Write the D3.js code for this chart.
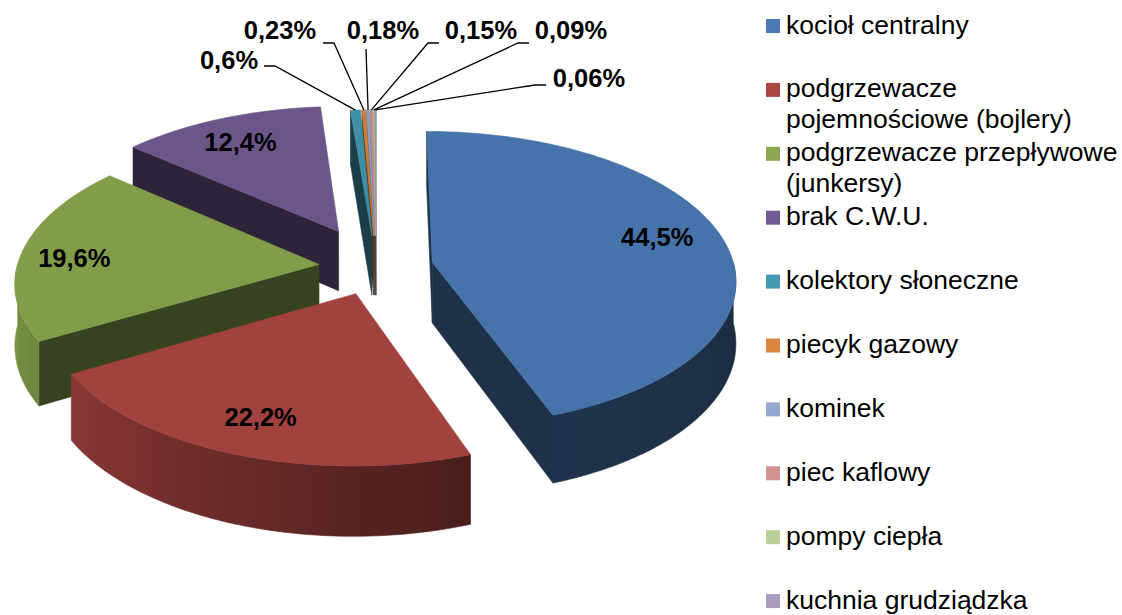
<!DOCTYPE html>
<html>
<head>
<meta charset="utf-8">
<script src="https://cdnjs.cloudflare.com/ajax/libs/d3/7.8.5/d3.min.js"></script>
<style>
  body { margin: 0; background: #fff; }
  svg { display: block; font-family: "Liberation Sans", Arial, sans-serif; }
</style>
</head>
<body>
<svg id="chart" width="1122" height="615"></svg>
<script>
// data
var categories = [
    "kocioł centralny",
    "podgrzewacze\npojemnościowe (bojlery)",
    "podgrzewacze przepływowe\n(junkersy)",
    "brak C.W.U.",
    "kolektory słoneczne",
    "piecyk gazowy",
    "kominek",
    "piec kaflowy",
    "pompy ciepła",
    "kuchnia grudziądzka"
];
var values = [44.5, 22.2, 19.6, 12.4, 0.6, 0.23, 0.18, 0.15, 0.09, 0.06];
var colors = ["#4a7ab4", "#ab4643", "#8aa74f", "#725b92", "#4399b1",
              "#dc853e", "#94a9d0", "#d39393", "#b9ce97", "#a99cbe"];

// 3d view
var cx = 376, cy = 267, rx = 302, ry = 146.5, depth = 61, dist = 8.9;
var explode = [0.19, 0.19, 0.19, 0.28, 0.22, 0.22, 0.22, 0.22, 0.22, 0.22];

// label placement (big ones on the face, small ones with leaders)
var labelR = [0.78, 0.78, 0.78, 0.78];
var labelShift = [[-2, -6], [-3, 1], [-13, 4], [-4, 0]];
var smallLabels = [
    {i: 4, tx: 229, ty: 60, ex: 275, ey: 66},
    {i: 5, tx: 280, ty: 30, ex: 334, ey: 43},
    {i: 6, tx: 383, ty: 30, ex: 366, ey: 49},
    {i: 7, tx: 481, ty: 30, ex: 428, ey: 43},
    {i: 8, tx: 571, ty: 30, ex: 518, ey: 43},
    {i: 9, tx: 589, ty: 78, ex: 535, ey: 85}
];

var svg = d3.select("#chart");
var defs = svg.append("defs");
var line = d3.line();

function proj(X, Z, d) {
    var f = dist / (dist - Z);
    return [cx + rx * X * f, cy + (ry * Z + depth * d) * f];
}

function shade(c, k) {
    var q = d3.rgb(c);
    return d3.rgb(q.r * k, q.g * k, q.b * k).formatHex();
}

// curved wall gets lighter towards the left
var wallLight = d3.scaleLinear()
    .domain([90, 160, 240, 270])
    .range([0.36, 0.42, 0.8, 0.9])
    .clamp(true);

var slices = d3.pie().sort(null).value(function(d) { return d; })(values)
    .map(function(p, i) {
        var m = (p.startAngle + p.endAngle) / 2;
        var s = {i: i, a0: p.startAngle, a1: p.endAngle, m: m, v: p.value};
        s.ax = explode[i] * Math.sin(m);
        s.az = -explode[i] * Math.cos(m);
        var gx = s.ax + 0.5 * Math.sin(m), gz = s.az - 0.5 * Math.cos(m);
        s.far = Math.sqrt(gx * gx + (dist - gz) * (dist - gz));
        return s;
    });

function rim(s, a, d) {
    return proj(s.ax + Math.sin(a), s.az - Math.cos(a), d);
}

function arcPts(s, a0, a1, d) {
    var n = Math.max(1, Math.ceil((a1 - a0) / (Math.PI / 180)));
    var pts = [];
    for (var k = 0; k <= n; k++) {
        pts.push(rim(s, a0 + (a1 - a0) * k / n, d));
    }
    return pts;
}

function faces(s, a, nAngle) {
    var nx = Math.sin(nAngle), nz = -Math.cos(nAngle);
    return (0 - s.ax) * nx + (dist - s.az) * nz > 0;
}

function radialWall(g, s, a) {
    var pts = [proj(s.ax, s.az, 0), rim(s, a, 0), rim(s, a, 1), proj(s.ax, s.az, 1)];
    var c = shade(colors[s.i], 0.4);
    g.append("path")
        .attr("d", line(pts) + "Z")
        .attr("fill", c)
        .attr("stroke", c)
        .attr("stroke-width", 0.6);
}

function outerWall(g, s) {
    var a0 = Math.max(s.a0, Math.PI / 2), a1 = Math.min(s.a1, 3 * Math.PI / 2);
    if (a1 <= a0) return;
    var top = arcPts(s, a0, a1, 0);
    var bot = arcPts(s, a0, a1, 1).reverse();

    var x1 = top[0][0], x2 = top[top.length - 1][0];
    var grad = defs.append("linearGradient")
        .attr("id", "wall" + s.i)
        .attr("gradientUnits", "userSpaceOnUse")
        .attr("x1", x1).attr("y1", 0)
        .attr("x2", x2).attr("y2", 0);
    var last = 0, steps = 12;
    for (var k = 0; k <= steps; k++) {
        var a = a0 + (a1 - a0) * k / steps;
        var off = (rim(s, a, 0)[0] - x1) / (x2 - x1);
        off = Math.max(last, Math.min(1, off));
        last = off;
        grad.append("stop")
            .attr("offset", off)
            .attr("stop-color", shade(colors[s.i], wallLight(a * 180 / Math.PI)));
    }
    g.append("path")
        .attr("d", line(top.concat(bot)) + "Z")
        .attr("fill", "url(#wall" + s.i + ")")
        .attr("stroke", "url(#wall" + s.i + ")")
        .attr("stroke-width", 0.6);
}

// walls first, back to front, then all top faces
var walls = svg.append("g");
slices.slice().sort(function(a, b) { return b.far - a.far; }).forEach(function(s) {
    if (faces(s, s.a0, s.a0 - Math.PI / 2)) radialWall(walls, s, s.a0);
    if (faces(s, s.a1, s.a1 + Math.PI / 2)) radialWall(walls, s, s.a1);
    outerWall(walls, s);
});

var tops = svg.append("g");
slices.forEach(function(s) {
    var pts = [proj(s.ax, s.az, 0)].concat(arcPts(s, s.a0, s.a1, 0));
    var c = shade(colors[s.i], 0.94);
    tops.append("path")
        .attr("d", line(pts) + "Z")
        .attr("fill", c)
        .attr("stroke", c)
        .attr("stroke-width", 0.6);
});

function fmt(v) {
    return String(v).replace(".", ",") + "%";
}

// labels
var labels = svg.append("g")
    .attr("font-weight", "bold")
    .attr("font-size", "25.5px")
    .attr("fill", "#000")
    .attr("text-anchor", "middle");

slices.slice(0, 4).forEach(function(s) {
    var r = labelR[s.i];
    var p = proj(s.ax + r * Math.sin(s.m), s.az - r * Math.cos(s.m), 0);
    labels.append("text")
        .attr("x", p[0] + labelShift[s.i][0])
        .attr("y", p[1] + labelShift[s.i][1])
        .attr("dy", "0.36em")
        .text(fmt(s.v));
});

smallLabels.forEach(function(L) {
    var s = slices[L.i];
    var end = rim(s, s.m, 0);
    var pts = [];
    if (L.tx < L.ex - 20) pts.push([L.ex - 11, L.ey]);
    else if (L.tx > L.ex + 20) pts.push([L.ex + 11, L.ey]);
    pts.push([L.ex, L.ey], end);
    svg.append("path")
        .attr("d", line(pts))
        .attr("fill", "none")
        .attr("stroke", "#000")
        .attr("stroke-width", 1.3);
    labels.append("text")
        .attr("x", L.tx)
        .attr("y", L.ty)
        .attr("dy", "0.36em")
        .text(fmt(s.v));
});

// legend
var legend = svg.append("g")
    .attr("font-size", "26.5px")
    .attr("fill", "#000");

categories.forEach(function(name, i) {
    var yc = 26 + 63.9 * i;
    legend.append("rect")
        .attr("x", 766).attr("y", yc - 7)
        .attr("width", 14).attr("height", 14)
        .attr("fill", colors[i]);
    var t = legend.append("text").attr("x", 786).attr("y", yc + 7.5);
    name.split("\n").forEach(function(part, k) {
        t.append("tspan")
            .attr("x", 786)
            .attr("dy", k ? 31 : 0)
            .text(part);
    });
});
</script>
</body>
</html>
